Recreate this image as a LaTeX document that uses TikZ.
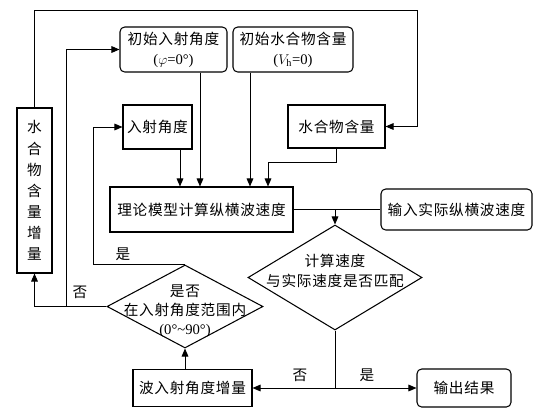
\documentclass[tikz,border=0pt]{standalone}
\usepackage{fontspec}
\setmainfont{Liberation Serif}
\newfontfamily\cjk[LetterSpace=5]{Noto Sans CJK SC}
\usetikzlibrary{arrows.meta, positioning, shapes.geometric, calc}
\newcommand\pu{0.03cm}

\begin{document}
\begin{tikzpicture}[
    x=0.03cm, y=-0.03cm,
    >={Triangle[length=2.4mm, width=2mm]},
    line width=0.8pt,
    box/.style 2 args={draw, line width=0.9pt, minimum width=#1*\pu,
                       minimum height=#2*\pu, inner sep=1pt, align=center,
                       font=\cjk\fontsize{12.5}{17}\selectfont},
    rbox/.style 2 args={box={#1}{#2}, rounded corners=4pt},
    dia/.style 2 args={draw, diamond, line width=0.9pt, inner sep=0pt,
                       minimum width=#1*\pu, minimum height=#2*\pu},
    txt/.style={align=center, font=\cjk\fontsize{12.5}{17}\selectfont}
  ]
  \useasboundingbox (0,0) rectangle (539,415);

  % boxes
  \node[rbox={107}{45}] (init1) at (173.5,49.5) {初始入射角度\\{\rmfamily($\varphi$=0°)}};
  \node[rbox={120}{45}] (init2) at (293,49.5) {初始水合物含量\\{\rmfamily($V_{\mathrm{h}}$=0)}};
  \node[box={69}{44}] (ang) at (157.5,127) {入射角度};
  \node[box={97}{43}] (hyd) at (336.5,126.5) {水合物含量};
  \node[box={183}{45}] (theory) at (201.5,209.5) {理论模型计算纵横波速度};
  \node[rbox={151}{41}] (input) at (456.5,209.5) {输入实际纵横波速度};
  \node[box={35}{165}, font=\cjk\fontsize{12.5}{18}\selectfont] (hinc) at (34.5,190.5)
    {水\\合\\物\\含\\量\\增\\量};
  \node[box={119}{37}] (incr) at (192.5,388) {波入射角度增量};
  \node[rbox={94}{38}] (out) at (464,388) {输出结果};

  % decisions
  \node[dia={174}{105}] (dia1) at (335,277.5) {};
  \node[txt] (dia1t) at (335,271) {计算速度\\与实际速度是否匹配};
  \node[dia={156}{83}] (dia2) at (185,306.5) {};
  \node[txt, font=\cjk\fontsize{12.5}{16}\selectfont] (dia2t) at (185,311)
    {是否\\在入射角度范围内\\{\rmfamily(0°\textasciitilde 90°)}};

  % junctions
  \coordinate (tr) at (417,10);
  \coordinate (jno) at (66,306.5);

  % connectors
  \draw[->] ([xshift=26.5*\pu]init1.south) -- ([xshift=26.5*\pu]init1.south |- theory.north);
  \draw[->] ([xshift=22.5*\pu]ang.south) -- ([xshift=22.5*\pu]ang.south |- theory.north);
  \draw[->] ([xshift=-43*\pu]init2.south) -- ([xshift=-43*\pu]init2.south |- theory.north);
  \draw[->] (hyd.south) -- ++(0,14) -| ([xshift=66.5*\pu]theory.north);
  \draw (theory.east) -- (input.west);
  \draw[->] (theory.east -| dia1.north) -- (dia1.north);
  \draw (dia1.south) -- (dia1.south |- incr.east);
  \draw[->] (dia1.south |- incr.east) -- (incr.east);
  \draw[->] (dia1.south |- out.west) -- (out.west);
  \draw[->] (dia2.south |- incr.north) -- (dia2.south);
  \draw[->] (dia2.west) -- (hinc.south |- dia2.west) -- (hinc.south);
  \draw[->] (jno) |- (init1.west);
  \draw[->] (dia2.north) -- ++(-92,0) |- (ang.west);
  \draw[->] (hinc.north) |- (tr) |- (hyd.east);

  % labels
  \node[txt] (yes1) at (123,254) {是};
  \node[txt] (no1) at (80,292) {否};
  \node[txt] (no2) at (300,375) {否};
  \node[txt] (yes2) at (367,375) {是};
\end{tikzpicture}
\end{document}
